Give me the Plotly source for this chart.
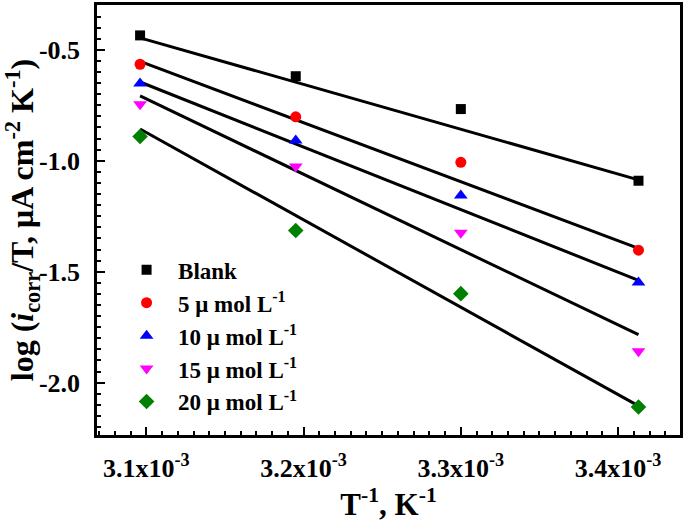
import plotly.graph_objects as go

# Data
inv_T = [3.096e-3, 3.195e-3, 3.300e-3, 3.413e-3]  # T^-1, K^-1

series_names = ["Blank", "5 μ mol L<sup>-1</sup>", "10 μ mol L<sup>-1</sup>",
                "15 μ mol L<sup>-1</sup>", "20 μ mol L<sup>-1</sup>"]

blank = [-0.435, -0.619, -0.767, -1.090]
c5 = [-0.565, -0.802, -1.007, -1.403]
c10 = [-0.652, -0.909, -1.157, -1.549]
c15 = [-0.745, -1.026, -1.325, -1.859]
c20 = [-0.891, -1.314, -1.599, -2.110]

# Fitted line values at the first and last T^-1
fit_start = [-0.446, -0.552, -0.645, -0.708, -0.857]
fit_end = [-1.086, -1.395, -1.539, -1.784, -2.105]

x_ticks = [3.1e-3, 3.2e-3, 3.3e-3, 3.4e-3]
x_tick_labels = ["3.1x10<sup>-3</sup>", "3.2x10<sup>-3</sup>",
                 "3.3x10<sup>-3</sup>", "3.4x10<sup>-3</sup>"]
y_ticks = [-0.5, -1.0, -1.5, -2.0]
y_tick_labels = ["-0.5", "-1.0", "-1.5", "-2.0"]

colors = ["#000000", "#ff0000", "#0000ff", "#ff00ff", "#008000"]
symbols = ["square", "circle", "triangle-up", "triangle-down", "diamond"]
sizes = [10, 11, 12, 12, 12]

FONT = "Liberation Serif"

fig = go.Figure()
all_series = [blank, c5, c10, c15, c20]

for i, ys in enumerate(all_series):
    fig.add_trace(go.Scatter(
        x=[inv_T[0], inv_T[-1]], y=[fit_start[i], fit_end[i]],
        mode="lines", line=dict(color="black", width=3),
        showlegend=False, hoverinfo="skip"))

for i, ys in enumerate(all_series):
    fig.add_trace(go.Scatter(
        x=inv_T, y=ys, mode="markers", name=series_names[i],
        legendgroup=f"g{i}",
        marker=dict(symbol=symbols[i], color=colors[i], size=sizes[i],
                    line=dict(width=0))))

fig.update_layout(
    width=685, height=523,
    margin=dict(l=97, r=2, t=3, b=88),
    paper_bgcolor="white", plot_bgcolor="white",
    font=dict(family=FONT, color="black", size=23, weight="bold"),
    showlegend=True,
    legend=dict(x=0.031, y=0.434, xanchor="left", yanchor="top",
                bgcolor="rgba(0,0,0,0)", borderwidth=0,
                font=dict(family=FONT, size=23, color="black", weight="bold"),
                tracegroupgap=0, itemwidth=53),
)

fig.update_xaxes(
    range=[3.0686e-3, 3.4394e-3],
    tickmode="array", tickvals=x_ticks, ticktext=x_tick_labels,
    ticks="inside", ticklen=8, tickwidth=2, tickcolor="black",
    minor=dict(tickmode="linear", tick0=3.1e-3, dtick=1e-5,
               ticks="inside", ticklen=4, tickwidth=2, tickcolor="black"),
    showline=True, linewidth=2.5, linecolor="black", mirror=True,
    showgrid=False, zeroline=False, ticklabelstandoff=8,
    tickfont=dict(family=FONT, size=26, color="black", weight="bold"),
    title=dict(text="T<sup>-1</sup>, K<sup>-1</sup>",
               font=dict(family=FONT, size=31, color="black", weight="bold"),
               standoff=12),
)
fig.update_yaxes(
    range=[-2.236, -0.298],
    tickmode="array", tickvals=y_ticks, ticktext=y_tick_labels,
    ticks="inside", ticklen=8, tickwidth=2, tickcolor="black",
    minor=dict(tickmode="linear", tick0=-0.5, dtick=0.05,
               ticks="inside", ticklen=4, tickwidth=2, tickcolor="black"),
    showline=True, linewidth=2.5, linecolor="black", mirror=True,
    showgrid=False, zeroline=False, ticklabelstandoff=9,
    tickfont=dict(family=FONT, size=26, color="black", weight="bold"),
    title=dict(text="log (<i>i</i><sub>corr</sub>/T, μA cm<sup>-2</sup> K<sup>-1</sup>)",
               font=dict(family=FONT, size=32, color="black", weight="bold"),
               standoff=6),
)

fig.write_html("out.html", config={"displayModeBar": False},
               post_script="document.body.style.margin='0';")
